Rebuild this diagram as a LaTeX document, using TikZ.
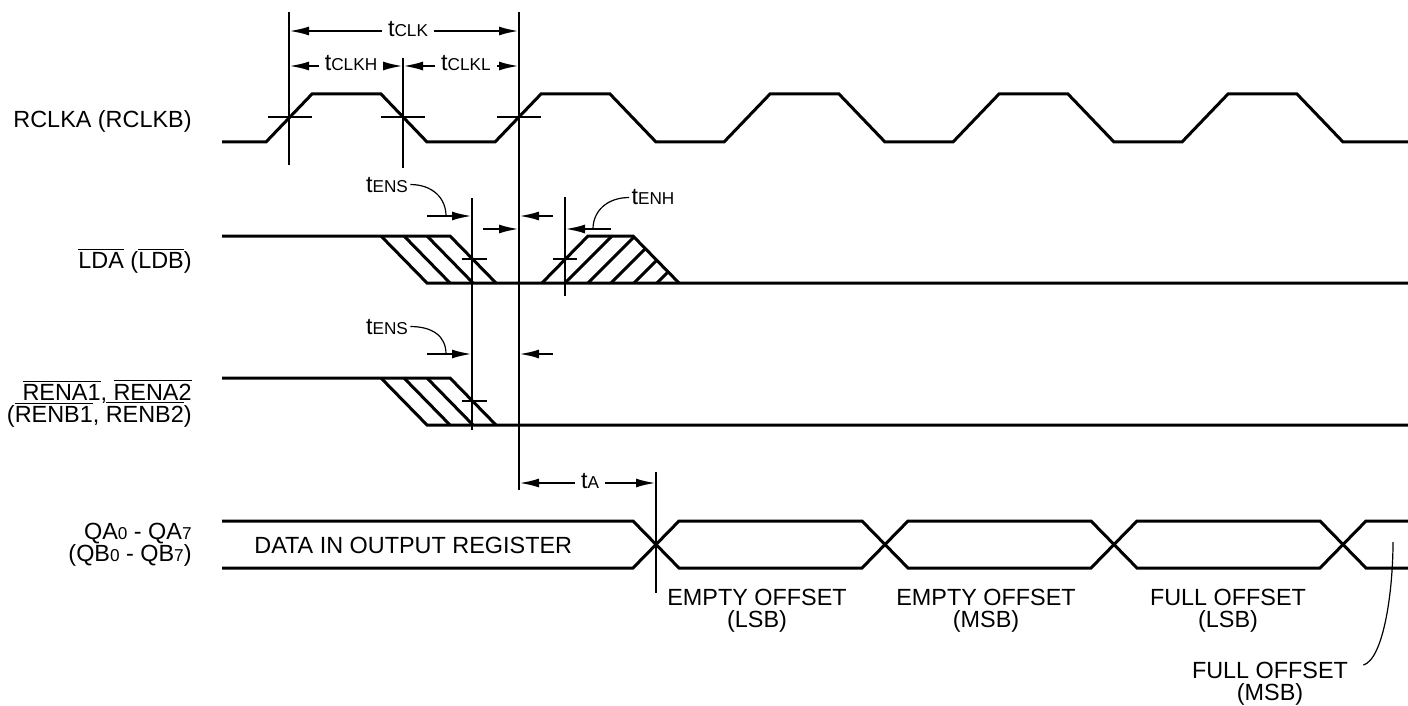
\documentclass[tikz,border=0pt]{standalone}
\usepackage{fontspec}
\setmainfont{Liberation Sans}
\usetikzlibrary{arrows.meta}
\newcommand{\tsub}[1]{{\fontsize{8.6}{10}\selectfont #1}}
\newcommand{\negsig}[1]{$\overline{\mbox{#1}}$}
\newcommand{\lblfont}{\fontsize{11.7}{11}\selectfont\lineskiplimit=-20pt\relax}
\tikzset{
  sig/.style={line width=1.5pt},
  vline/.style={line width=1.1pt},
  tickmark/.style={line width=1.1pt},
  dim/.style={line width=1.2pt},
  lead/.style={line width=0.6pt},
  lbl/.style={font=\lblfont,inner sep=0pt},
  tlbl/.style={lbl,fill=white,inner xsep=3pt,inner ysep=1pt},
}
\begin{document}
\begin{tikzpicture}[x=0.5pt,y=-0.5pt,>={Latex[length=10pt,width=4.5pt]}]
\useasboundingbox (0,0) rectangle (1408,706);
% signal names (multi-line nodes sit on their last baseline)
\node[lbl,anchor=base east] (nclk) at (192,127) {RCLKA (RCLKB)};
\node[lbl,anchor=base east] (nlda) at (192,268) {\negsig{LDA} (\negsig{LDB})};
\node[lbl,anchor=base east,align=right] (nrena) at (192,422)
  {\negsig{RENA1}, \negsig{RENA2}\\(\negsig{RENB1}, \negsig{RENB2})};
\node[lbl,anchor=base east,align=right] (nqa) at (192,561)
  {QA\tsub{0} - QA\tsub{7}\\(QB\tsub{0} - QB\tsub{7})};
% clock
\draw[sig] (222,142) \foreach \k in {0,...,4}{
  -- ({266+229*\k},142) -- ({312+229*\k},94) -- ({381+229*\k},94) -- ({427+229*\k},142)
} -- (1408,142);
\foreach \x in {290,403,519}{
	\draw[tickmark] ({\x-22},117) -- ({\x+22},117);
}
% LDA
\draw[sig] (222,236) -- (450,236) -- (496,283);
\draw[sig] (381,236) -- (427,283) -- (1408,283);
\foreach \x in {404,427}{
	\draw[sig] (\x,236) -- ({\x+46},283);
}
\draw[sig] (542,283) -- (588,236) -- (633,236) -- (679,283);
\begin{scope}
\clip (542,283) -- (588,236) -- (633,236) -- (679,283) -- cycle;
\foreach \x in {565,588,...,657}{
	\draw[sig] (\x,283) -- ++(60,-60);
}
\end{scope}
\draw[tickmark] (462,259) -- (487,259);
\draw[tickmark] (553,259) -- (577,259);
% RENA
\draw[sig] (222,378) -- (450,378) -- (496,425);
\draw[sig] (381,378) -- (427,425) -- (1408,425);
\foreach \x in {404,427}{
	\draw[sig] (\x,378) -- ({\x+46},425);
}
\draw[tickmark] (462,401) -- (487,401);
% data bus
\draw[sig] (222,521) -- (633,521) -- (679,568) -- (862,568) -- (908,521) -- (1091,521)
  -- (1137,568) -- (1320,568) -- (1366,521) -- (1408,521);
\draw[sig] (222,568) -- (633,568) -- (679,521) -- (862,521) -- (908,568) -- (1091,568)
  -- (1137,521) -- (1320,521) -- (1366,568) -- (1408,568);
\node[lbl,anchor=base west] (dreg) at (254,553) {DATA IN OUTPUT REGISTER};
\node[lbl,anchor=base,align=center] (elsb) at (757,627) {EMPTY OFFSET\\(LSB)};
\node[lbl,anchor=base,align=center] (emsb) at (986,627) {EMPTY OFFSET\\(MSB)};
\node[lbl,anchor=base,align=center] (flsb) at (1228,627) {FULL OFFSET\\(LSB)};
\node[lbl,anchor=base,align=center] (fmsb) at (1270,700) {FULL OFFSET\\(MSB)};
\draw[lead] ([shift={(15,-35)}]fmsb.base east) .. controls +(20,-6) and +(0,50) .. (1393,542);
% reference lines
\draw[vline] (289,12) -- (289,165);
\draw[vline] (403,58) -- (403,168);
\draw[vline] (519,12) -- (519,490);
\draw[vline] (472,198) -- (472,430);
\draw[vline] (565,197) -- (565,296);
\draw[vline] (656,472) -- (656,593);
% timing
\draw[dim,<->] (289,31) -- (519,31);
\draw[dim,<->] (289,66) -- (403,66);
\draw[dim,<->] (403,66) -- (519,66);
\node[tlbl,anchor=base] (tclk) at (408,37) {t\tsub{CLK}};
\node[tlbl,anchor=base] (tclkh) at (351,71) {t\tsub{CLKH}};
\node[tlbl,anchor=base] (tclkl) at (466,71) {t\tsub{CLKL}};
\draw[dim,->] (427,216) -- (472,216);
\draw[dim,->] (483,229) -- (519,229);
\draw[dim,->] (553,216) -- (519,216);
\draw[dim,->] (611,229) -- (565,229);
\draw[dim,->] (427,354) -- (472,354);
\draw[dim,->] (553,354) -- (519,354);
\node[lbl,anchor=base] (ens1) at (387,192) {t\tsub{ENS}};
\node[lbl,anchor=base] (ens2) at (387,334) {t\tsub{ENS}};
\node[lbl,anchor=base] (enh) at (653,205) {t\tsub{ENH}};
\draw[lead] ([xshift=1pt]ens1.east) .. controls +(22,0) and +(0,-18) .. (446,216);
\draw[lead] ([xshift=1pt]ens2.east) .. controls +(22,0) and +(0,-18) .. (446,354);
\draw[lead] ([xshift=-1pt]enh.west) .. controls +(-22,0) and +(0,-18) .. (593,229);
\draw[dim,<->] (519,483) -- (656,483);
\node[tlbl,anchor=base] (ta) at (590,488) {t\tsub{A}};
\end{tikzpicture}
\end{document}
